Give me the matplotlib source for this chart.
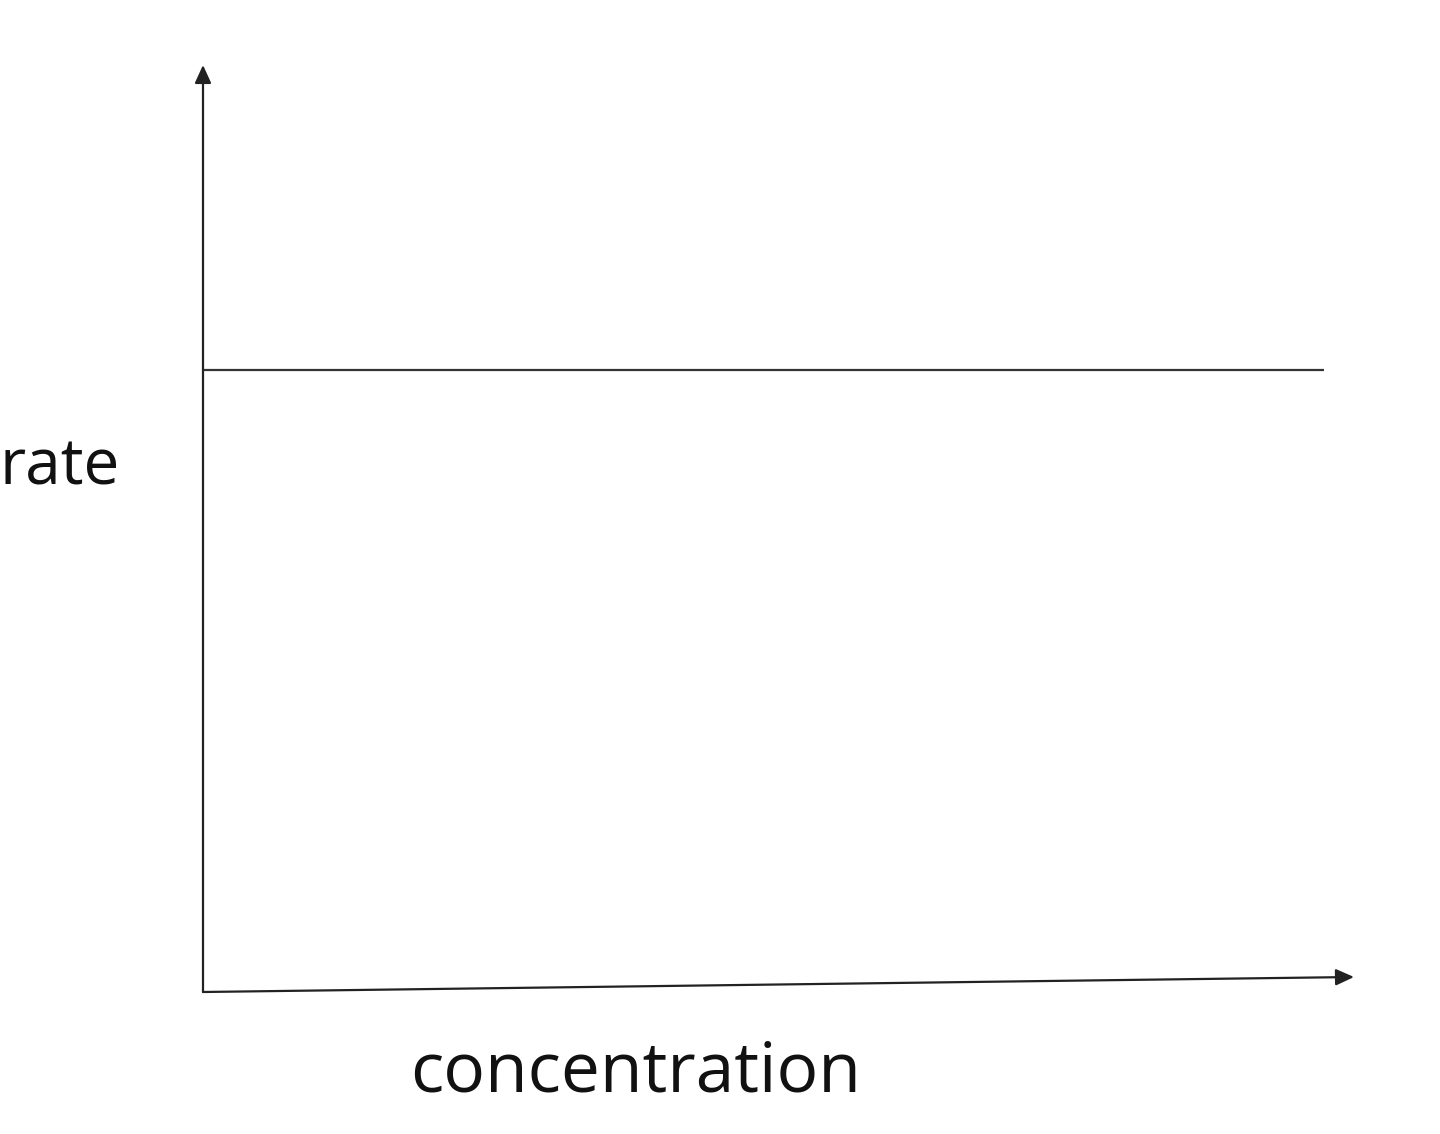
import matplotlib
matplotlib.use("Agg")
import matplotlib.pyplot as plt

# zero-order reaction: rate does not depend on concentration
concentration = [0.0, 0.974]
rate = [0.671, 0.671]
x_label = "concentration"
y_label = "rate"

W, H = 1440, 1134
plt.rcParams["font.family"] = ["Open Sans", "DejaVu Sans"]

fig = plt.figure(figsize=(W / 100, H / 100), dpi=100)
ax = fig.add_axes([203 / W, (H - 992) / H, (1354 - 203) / W, (992 - 65) / H])
ax.set_xlim(0, 1)
ax.set_ylim(0, 1)
ax.axis("off")

line_col = "#333333"
ax.plot(concentration, rate, color=line_col, lw=1.6, solid_capstyle="butt")

# hand-drawn looking axes with arrow heads
arrow = dict(arrowstyle="-|>,head_length=1.1,head_width=0.5", color="#222222", lw=1.6,
             shrinkA=0, shrinkB=0)
ax.annotate("", xy=(0, 1), xytext=(0, 0), xycoords="axes fraction", arrowprops=arrow)
ax.annotate("", xy=(1, 15 / 927), xytext=(0, 0), xycoords="axes fraction", arrowprops=arrow)

# the reference crops the "r" at the left edge; keep it just inside here
fig.text(120 / W, (H - 485) / H, y_label, fontsize=46, ha="right", va="baseline", color="#111111")
fig.text(636 / W, (H - 1092) / H, x_label, fontsize=50, ha="center", va="baseline", color="#111111")

fig.savefig("out.png", dpi=100, facecolor="white")
